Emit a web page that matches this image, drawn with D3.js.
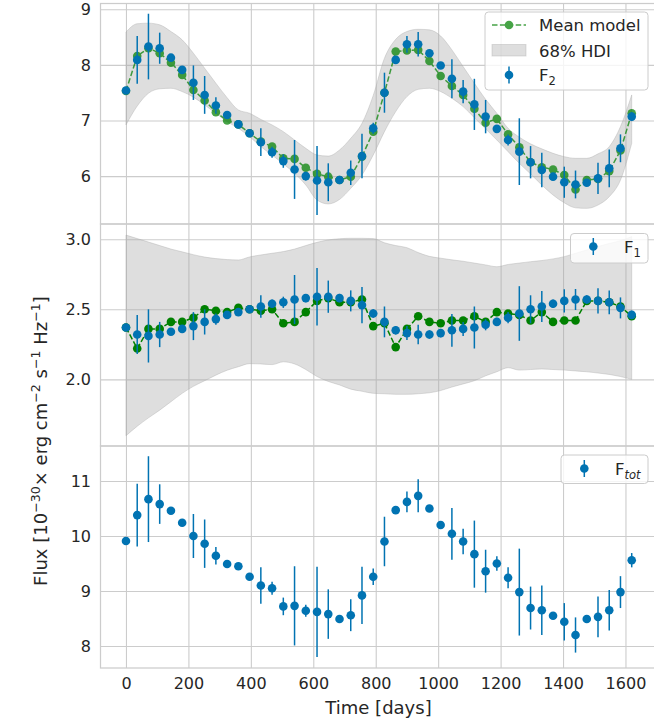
<!DOCTYPE html>
<html>
<head>
<meta charset="utf-8">
<script src="https://cdn.jsdelivr.net/npm/d3@7"></script>
<style>
  html, body { margin: 0; padding: 0; background: #ffffff; }
  svg { display: block; font-family: "DejaVu Sans", sans-serif; }
</style>
</head>
<body>
<script>
// Observation epochs (days)
const days = [0, 36, 72, 108, 144, 180, 216, 252, 288, 324, 360, 396, 432, 468, 504, 540,
  576, 612, 648, 684, 720, 756, 792, 828, 864, 900, 936, 972, 1008, 1044, 1080, 1116,
  1152, 1188, 1224, 1260, 1296, 1332, 1368, 1404, 1440, 1476, 1512, 1548, 1584, 1620];

// F2 component: measurements, 1-sigma errors, mean model and 68% HDI
const f2Flux = [7.54, 8.09, 8.33, 8.30, 8.13, 7.91, 7.68, 7.46, 7.27, 7.10, 6.93, 6.77, 6.61, 6.43, 6.27, 6.12,
  6.00, 5.92, 5.89, 5.93, 6.06, 6.36, 6.86, 7.50, 8.09, 8.37, 8.37, 8.21, 7.99, 7.75, 7.52, 7.29,
  7.07, 6.85, 6.65, 6.44, 6.25, 6.11, 5.99, 5.89, 5.85, 5.88, 5.96, 6.14, 6.50, 7.07];
const f2Err = [0.04, 0.43, 0.59, 0.28, 0.05, 0.05, 0.31, 0.34, 0.15, 0.05, 0.04, 0.05, 0.25, 0.10, 0.12, 0.53,
  0.08, 0.62, 0.34, 0.05, 0.22, 0.40, 0.10, 0.36, 0.05, 0.15, 0.22, 0.05, 0.05, 0.35, 0.21, 0.46,
  0.30, 0.06, 0.10, 0.60, 0.29, 0.31, 0.05, 0.28, 0.25, 0.05, 0.28, 0.34, 0.25, 0.08];
const f2Model = [7.53, 8.16, 8.30, 8.21, 8.04, 7.82, 7.55, 7.36, 7.15, 7.00, 6.93, 6.77, 6.62, 6.53, 6.32, 6.31,
  6.15, 6.04, 5.99, 5.93, 5.99, 6.35, 6.80, 7.50, 8.24, 8.26, 8.27, 8.07, 7.80, 7.62, 7.46, 7.21,
  6.96, 7.03, 6.75, 6.52, 6.25, 6.16, 6.12, 6.02, 5.76, 5.93, 5.95, 6.09, 6.46, 7.13];
const f2HdiHigh = [8.59, 8.74, 8.75, 8.72, 8.60, 8.45, 8.21, 7.94, 7.67, 7.41, 7.19, 7.13, 7.02, 6.92, 6.80, 6.65,
  6.50, 6.38, 6.36, 6.47, 6.68, 6.95, 7.45, 8.12, 8.46, 8.60, 8.64, 8.63, 8.52, 8.27, 7.97, 7.67,
  7.38, 7.13, 6.86, 6.70, 6.58, 6.49, 6.41, 6.35, 6.32, 6.32, 6.40, 6.53, 6.89, 7.46];
const f2HdiLow = [6.92, 7.26, 7.49, 7.57, 7.58, 7.52, 7.42, 7.28, 7.13, 6.98, 6.86, 6.71, 6.53, 6.38, 6.22, 6.05,
  5.84, 5.57, 5.50, 5.58, 5.78, 6.02, 6.38, 6.80, 7.16, 7.43, 7.56, 7.58, 7.52, 7.40, 7.25, 7.05,
  6.85, 6.65, 6.44, 6.23, 6.04, 5.84, 5.66, 5.52, 5.43, 5.42, 5.48, 5.63, 5.93, 6.59];

// F1 component
const f1Flux = [2.37, 2.32, 2.31, 2.32, 2.34, 2.36, 2.38, 2.41, 2.43, 2.46, 2.48, 2.50, 2.52, 2.54, 2.55, 2.57,
  2.58, 2.59, 2.59, 2.58, 2.56, 2.53, 2.47, 2.41, 2.35, 2.33, 2.32, 2.32, 2.33, 2.35, 2.36, 2.37,
  2.39, 2.41, 2.44, 2.47, 2.50, 2.52, 2.54, 2.56, 2.57, 2.57, 2.56, 2.55, 2.51, 2.46];
const f1Err = [0.02, 0.14, 0.19, 0.09, 0.02, 0.02, 0.10, 0.09, 0.04, 0.02, 0.02, 0.02, 0.08, 0.03, 0.04, 0.175,
  0.03, 0.205, 0.115, 0.03, 0.075, 0.13, 0.03, 0.11, 0.03, 0.05, 0.07, 0.03, 0.03, 0.117, 0.05, 0.15,
  0.04, 0.03, 0.04, 0.195, 0.10, 0.11, 0.03, 0.083, 0.075, 0.03, 0.09, 0.085, 0.075, 0.03];
const f1Model = [2.37, 2.22, 2.36, 2.36, 2.41, 2.41, 2.44, 2.50, 2.49, 2.48, 2.51, 2.50, 2.49, 2.50, 2.40, 2.41,
  2.48, 2.56, 2.58, 2.55, 2.55, 2.57, 2.38, 2.40, 2.23, 2.36, 2.45, 2.41, 2.40, 2.42, 2.42, 2.45,
  2.41, 2.48, 2.47, 2.46, 2.42, 2.48, 2.41, 2.42, 2.42, 2.56, 2.56, 2.55, 2.52, 2.45];
const f1HdiHigh = [3.03, 3.005, 2.98, 2.955, 2.93, 2.91, 2.89, 2.873, 2.862, 2.855, 2.852, 2.874, 2.888, 2.90, 2.912, 2.93,
  2.955, 2.978, 2.995, 3.004, 3.007, 3.007, 3.005, 2.975, 2.955, 2.94, 2.905, 2.878, 2.865, 2.853, 2.843, 2.83,
  2.817, 2.804, 2.82, 2.83, 2.84, 2.848, 2.86, 2.876, 2.90, 2.924, 2.948, 2.97, 2.99, 3.019];
const f1HdiLow = [1.597, 1.665, 1.725, 1.78, 1.84, 1.90, 1.95, 1.99, 2.03, 2.065, 2.09, 2.112, 2.11, 2.105, 2.125, 2.11,
  2.07, 2.02, 1.985, 1.96, 1.93, 1.915, 1.90, 1.897, 1.893, 1.893, 1.897, 1.904, 1.92, 1.945, 1.967, 1.99,
  2.025, 2.054, 2.083, 2.066, 2.07, 2.074, 2.07, 2.066, 2.06, 2.054, 2.045, 2.035, 2.02, 2.0];

// Total flux
const totFlux = [9.91, 10.38, 10.67, 10.58, 10.46, 10.24, 10.00, 9.86, 9.64, 9.49, 9.45, 9.26, 9.10, 9.05, 8.72, 8.73,
  8.64, 8.62, 8.58, 8.49, 8.56, 8.92, 9.26, 9.90, 10.47, 10.62, 10.73, 10.50, 10.20, 10.04, 9.90, 9.67,
  9.36, 9.50, 9.24, 8.98, 8.69, 8.65, 8.55, 8.44, 8.20, 8.49, 8.53, 8.65, 8.98, 9.56];
const totErr = [0.04, 0.57, 0.78, 0.36, 0.05, 0.05, 0.40, 0.44, 0.16, 0.05, 0.05, 0.05, 0.33, 0.12, 0.16, 0.72,
  0.11, 0.82, 0.45, 0.05, 0.29, 0.52, 0.15, 0.45, 0.05, 0.19, 0.30, 0.05, 0.05, 0.47, 0.23, 0.61,
  0.39, 0.13, 0.19, 0.79, 0.39, 0.45, 0.05, 0.34, 0.32, 0.05, 0.37, 0.37, 0.29, 0.13];

// Tick values
const xTicks = [0, 200, 400, 600, 800, 1000, 1200, 1400, 1600];
const f2Ticks = [6, 7, 8, 9];
const f1Ticks = [2.0, 2.5, 3.0];
const totTicks = [8, 9, 10, 11];

const W = 654, H = 724;
const BLUE = "#0173b2", GREEN = "#008000", GRID = "#cccccc", TEXT = "#262626";
const left = 100.5, right = 657;

const svg = d3.select("body").append("svg").attr("width", W).attr("height", H);
svg.append("rect").attr("width", W).attr("height", H).attr("fill", "#ffffff");

const x = d3.scaleLinear().domain([-81.6, 1701]).range([left, right]);

const panels = [
  { top: 3.5, bottom: 224, domain: [5.139, 9.104], ticks: f2Ticks, fmt: d3.format("d") },
  { top: 224, bottom: 446, domain: [1.524, 3.109], ticks: f1Ticks, fmt: d3.format(".1f") },
  { top: 446, bottom: 668, domain: [7.6, 11.636], ticks: totTicks, fmt: d3.format("d") }
];
panels.forEach(p => { p.y = d3.scaleLinear().domain(p.domain).range([p.bottom, p.top]); });

// grids, tick labels and frames
panels.forEach((p, k) => {
  const g = svg.append("g");
  const ya = d3.axisLeft(p.y).tickValues(p.ticks).tickFormat(p.fmt)
    .tickSize(-(right - left)).tickPadding(9.5);
  g.append("g").attr("transform", `translate(${left},0)`).call(ya)
    .call(s => s.select(".domain").remove())
    .call(s => s.selectAll("line").attr("stroke", GRID).attr("stroke-width", 1.1))
    .call(s => s.selectAll("text").attr("fill", TEXT).style("font-size", "16px")
      .style("font-family", "DejaVu Sans"));
  const xa = d3.axisBottom(x).tickValues(xTicks).tickFormat(d3.format("d"))
    .tickSize(-(p.bottom - p.top)).tickPadding(10);
  const gx = g.append("g").attr("transform", `translate(0,${p.bottom})`).call(xa)
    .call(s => s.select(".domain").remove())
    .call(s => s.selectAll("line").attr("stroke", GRID).attr("stroke-width", 1.1));
  if (k < 2) gx.selectAll("text").remove();
  else gx.selectAll("text").attr("fill", TEXT).style("font-size", "16px")
    .style("font-family", "DejaVu Sans");
  p.frame = () => svg.append("rect").attr("x", left).attr("y", p.top)
    .attr("width", right - left).attr("height", p.bottom - p.top)
    .attr("fill", "none").attr("stroke", GRID).attr("stroke-width", 1.25);
});

function band(p, lo, hi) {
  const area = d3.area().x((d, i) => x(days[i])).y0((d, i) => p.y(lo[i])).y1((d, i) => p.y(hi[i]))
    .curve(d3.curveMonotoneX);
  svg.append("path").attr("d", area(days)).attr("fill", "#a9a9a9").attr("fill-opacity", 0.38)
    .attr("stroke", "#a9a9a9").attr("stroke-opacity", 0.38).attr("stroke-width", 1);
}

function model(p, vals, alpha) {
  const g = svg.append("g").attr("opacity", alpha);
  const line = d3.line().x((d, i) => x(days[i])).y(d => p.y(d));
  g.append("path").attr("d", line(vals)).attr("fill", "none").attr("stroke", GREEN)
    .attr("stroke-width", 1.5).attr("stroke-dasharray", "5.5,2.4");
  g.selectAll("circle").data(vals).join("circle")
    .attr("cx", (d, i) => x(days[i])).attr("cy", d => p.y(d)).attr("r", 4.3).attr("fill", GREEN);
}

function errPoints(p, vals, errs) {
  const g = svg.append("g");
  g.selectAll("line").data(vals).join("line")
    .attr("x1", (d, i) => x(days[i])).attr("x2", (d, i) => x(days[i]))
    .attr("y1", (d, i) => p.y(d - errs[i])).attr("y2", (d, i) => p.y(d + errs[i]))
    .attr("stroke", BLUE).attr("stroke-width", 1.5);
  g.selectAll("circle").data(vals).join("circle")
    .attr("cx", (d, i) => x(days[i])).attr("cy", d => p.y(d)).attr("r", 4.3).attr("fill", BLUE);
}

function legendBox(x0, y0, x1, y1) {
  svg.append("rect").attr("x", x0).attr("y", y0).attr("width", x1 - x0).attr("height", y1 - y0)
    .attr("rx", 3.5).attr("fill", "#ffffff").attr("fill-opacity", 0.8)
    .attr("stroke", "#cccccc").attr("stroke-width", 1);
}
function errHandle(cx, cy) {
  svg.append("line").attr("x1", cx).attr("x2", cx).attr("y1", cy - 8.5).attr("y2", cy + 8.5)
    .attr("stroke", BLUE).attr("stroke-width", 1.5);
  svg.append("circle").attr("cx", cx).attr("cy", cy).attr("r", 4.3).attr("fill", BLUE);
}
function fLabel(tx, ty, sub, italic) {
  const t = svg.append("text").attr("x", tx).attr("y", ty).attr("fill", TEXT)
    .style("font-size", "16.5px");
  t.append("tspan").text("F");
  t.append("tspan").attr("dy", 4).style("font-size", "11.5px")
    .style("font-style", italic ? "italic" : "normal").text(sub);
}

// top panel: F2
const P2 = panels[0];
band(P2, f2HdiLow, f2HdiHigh);
model(P2, f2Model, 0.72);
errPoints(P2, f2Flux, f2Err);

// middle panel: F1
const P1 = panels[1];
band(P1, f1HdiLow, f1HdiHigh);
model(P1, f1Model, 1);
errPoints(P1, f1Flux, f1Err);

// bottom panel: total
const PT = panels[2];
errPoints(PT, totFlux, totErr);

panels.forEach(p => p.frame());

// legends
legendBox(485, 12, 648, 90);
{
  const g = svg.append("g").attr("opacity", 0.72);
  g.append("line").attr("x1", 492).attr("x2", 526).attr("y1", 25).attr("y2", 25)
    .attr("stroke", GREEN).attr("stroke-width", 1.5).attr("stroke-dasharray", "5.5,2.4");
  g.append("circle").attr("cx", 509).attr("cy", 25).attr("r", 4.3).attr("fill", GREEN);
}
svg.append("text").attr("x", 539).attr("y", 31).attr("fill", TEXT).style("font-size", "16.5px").text("Mean model");
svg.append("rect").attr("x", 492).attr("y", 44.5).attr("width", 34).attr("height", 11.5)
  .attr("fill", "#a9a9a9").attr("fill-opacity", 0.38).attr("stroke", "#a9a9a9").attr("stroke-opacity", 0.38);
svg.append("text").attr("x", 539).attr("y", 56.5).attr("fill", TEXT).style("font-size", "16.5px").text("68% HDI");
errHandle(509, 75);
fLabel(539, 81, "2", false);

legendBox(570.5, 233.5, 648, 263);
errHandle(593.3, 246.5);
fLabel(624, 252.5, "1", false);

legendBox(561, 455, 648, 483.5);
errHandle(584.3, 468.5);
fLabel(615, 474.5, "tot", true);

// axis labels
svg.append("text").attr("x", 378.5).attr("y", 714).attr("text-anchor", "middle")
  .attr("fill", TEXT).style("font-size", "18px").text("Time [days]");

const yl = svg.append("text").attr("transform", "translate(47,441) rotate(-90)")
  .attr("text-anchor", "middle").attr("fill", TEXT).style("font-size", "18px");
const parts = [["Flux [10", false], ["\u221230", true], ["\u00d7  erg cm", false], ["\u22122", true],
  [" s", false], ["\u22121", true], [" Hz", false], ["\u22121", true], ["]", false]];
let raised = false;
parts.forEach(([s, sup]) => {
  const ts = yl.append("tspan").text(s);
  if (sup && !raised) { ts.attr("dy", -7).style("font-size", "12.6px"); raised = true; }
  else if (!sup && raised) { ts.attr("dy", 7); raised = false; }
});
</script>
</body>
</html>
